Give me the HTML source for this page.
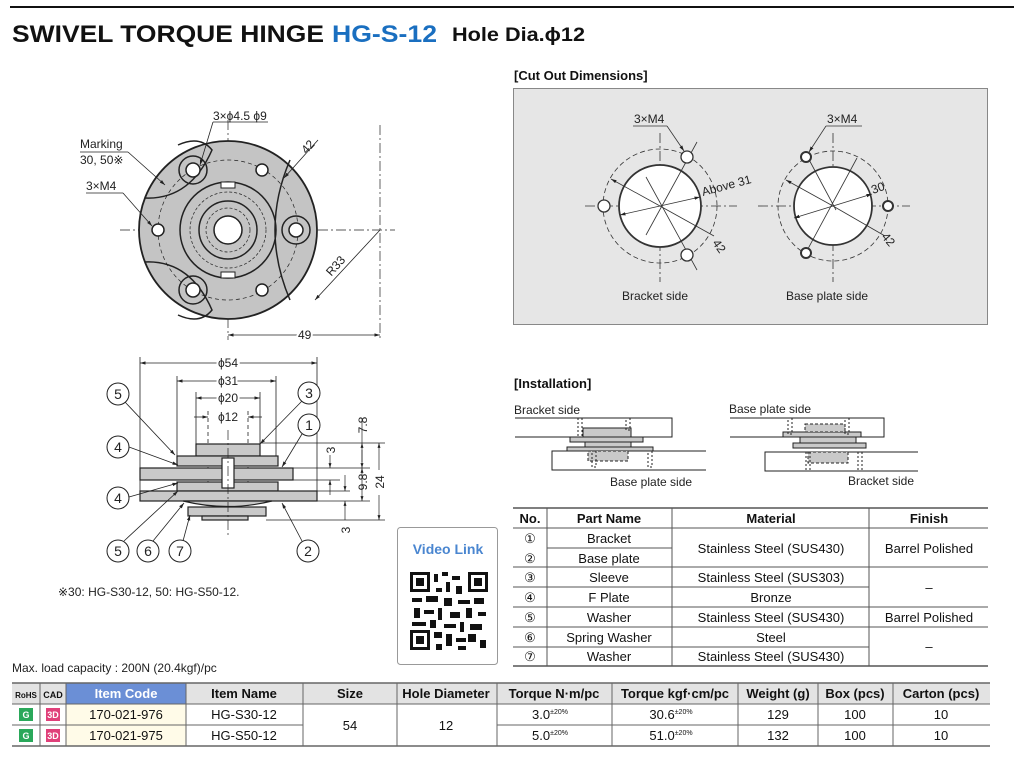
<!DOCTYPE html>
<html><head><meta charset="utf-8"><style>
body{margin:0;background:#fff;width:1014px;height:777px;overflow:hidden}
svg{display:block;font-family:"Liberation Sans",sans-serif}
</style></head><body>
<svg width="1014" height="777" viewBox="0 0 1014 777" xmlns="http://www.w3.org/2000/svg">
<defs>
<marker id="a" viewBox="0 0 10 10" refX="10" refY="5" markerWidth="7" markerHeight="7" orient="auto-start-reverse"><path d="M0,2 L10,5 L0,8z" fill="#222"/></marker>
</defs>
<line x1="10" y1="7" x2="1014" y2="7" stroke="#111" stroke-width="2"/>
<text x="12" y="42" font-size="24" font-weight="bold" fill="#111" textLength="312" lengthAdjust="spacingAndGlyphs">SWIVEL TORQUE HINGE</text>
<text x="332" y="42" font-size="24" font-weight="bold" fill="#1a6fc0" textLength="105" lengthAdjust="spacingAndGlyphs">HG-S-12</text>
<text x="452" y="41" font-size="19" font-weight="bold" fill="#111" textLength="133" lengthAdjust="spacingAndGlyphs">Hole Dia.ϕ12</text>

<!-- TOP VIEW -->
<g stroke="#222" fill="none">
<line x1="120" y1="230" x2="395" y2="230" stroke-dasharray="10,3,2,3" stroke-width="0.7"/>
<line x1="228" y1="120" x2="228" y2="340" stroke-dasharray="10,3,2,3" stroke-width="0.7"/>
<line x1="380" y1="125" x2="380" y2="340" stroke-dasharray="10,3,2,3" stroke-width="0.7"/>
<circle cx="228" cy="230" r="89" fill="#c4c4c4" stroke-width="1.8"/>
<path d="M145,198 Q190,200 212,150 Q200,135 178,145" stroke-width="1.5"/>
<path d="M145,262 Q190,260 212,310 Q200,325 178,315" stroke-width="1.5"/>
<path d="M290,160 Q260,230 290,300" stroke-width="1.5"/>
<circle cx="228" cy="230" r="70" stroke-dasharray="4,3" stroke-width="0.7"/>
<circle cx="228" cy="230" r="48" stroke-width="1.5"/>
<circle cx="228" cy="230" r="38" stroke-dasharray="3,2" stroke-width="0.7"/>
<circle cx="228" cy="230" r="29" stroke-width="1.5"/>
<circle cx="228" cy="230" r="22" stroke-dasharray="3,2" stroke-width="0.7"/>
<circle cx="228" cy="230" r="14" fill="#fff" stroke-width="1.5"/>
<rect x="221" y="182" width="14" height="6" fill="#fff" stroke-width="1"/>
<rect x="221" y="272" width="14" height="6" fill="#fff" stroke-width="1"/>
<circle cx="193" cy="170" r="14" stroke-width="1.5"/><circle cx="193" cy="170" r="7" fill="#fff" stroke-width="1.5"/>
<circle cx="193" cy="290" r="14" stroke-width="1.5"/><circle cx="193" cy="290" r="7" fill="#fff" stroke-width="1.5"/>
<circle cx="296" cy="230" r="14" stroke-width="1.5"/><circle cx="296" cy="230" r="7" fill="#fff" stroke-width="1.5"/>
<circle cx="158" cy="230" r="6" fill="#fff" stroke-width="1.5"/>
<circle cx="262" cy="170" r="6" fill="#fff" stroke-width="1.5"/>
<circle cx="262" cy="290" r="6" fill="#fff" stroke-width="1.5"/>
<line x1="213" y1="122" x2="268" y2="122" stroke-width="0.8"/><line x1="213" y1="122" x2="200" y2="165" stroke-width="0.8" marker-end="url(#a)"/>
<line x1="80" y1="152" x2="128" y2="152" stroke-width="0.8"/><line x1="128" y1="152" x2="165" y2="185" stroke-width="0.8" marker-end="url(#a)"/>
<line x1="86" y1="193" x2="123" y2="193" stroke-width="0.8"/><line x1="123" y1="193" x2="152" y2="226" stroke-width="0.8" marker-end="url(#a)"/>
<line x1="318" y1="140" x2="284" y2="178" stroke-width="0.8" marker-end="url(#a)"/>
<line x1="380" y1="230" x2="315" y2="300" stroke-width="0.8" marker-end="url(#a)"/>
<line x1="228" y1="335" x2="380" y2="335" stroke-width="0.8" marker-start="url(#a)" marker-end="url(#a)"/>
</g>
<g font-size="12" fill="#222">
<text x="213" y="120">3×ϕ4.5 ϕ9</text>
<text x="80" y="148">Marking</text>
<text x="80" y="164">30, 50※</text>
<text x="86" y="190">3×M4</text>
<text x="300" y="152" transform="rotate(-48 306 146)">42</text>
<text x="322" y="272" transform="rotate(-48 332 264)">R33</text>
<text x="298" y="339" fill="#222" style="paint-order:stroke" stroke="#fff" stroke-width="4">49</text>
</g>

<!-- SIDE VIEW -->
<g stroke="#222" stroke-width="0.8" fill="none">
<line x1="140" y1="357" x2="140" y2="491"/><line x1="317" y1="357" x2="317" y2="491"/>
<line x1="177" y1="376" x2="177" y2="456"/><line x1="276" y1="376" x2="276" y2="456"/>
<line x1="196" y1="392" x2="196" y2="444"/><line x1="260" y1="392" x2="260" y2="444"/>
<line x1="208" y1="411" x2="208" y2="520" stroke-dasharray="4,3"/><line x1="248" y1="411" x2="248" y2="520" stroke-dasharray="4,3"/>
<line x1="140" y1="363" x2="317" y2="363" marker-start="url(#a)" marker-end="url(#a)"/>
<line x1="177" y1="381" x2="276" y2="381" marker-start="url(#a)" marker-end="url(#a)"/>
<line x1="196" y1="398" x2="260" y2="398" marker-start="url(#a)" marker-end="url(#a)"/>
<line x1="194" y1="417" x2="208" y2="417" marker-end="url(#a)"/><line x1="262" y1="417" x2="248" y2="417" marker-end="url(#a)"/>
</g>
<g font-size="12" fill="#222" text-anchor="middle" stroke="#fff" stroke-width="4" style="paint-order:stroke">
<text x="228" y="367">ϕ54</text><text x="228" y="385">ϕ31</text><text x="228" y="402">ϕ20</text><text x="228" y="421">ϕ12</text>
</g>
<g stroke="#222" stroke-width="1.2" fill="#c9c9c9">
<rect x="196" y="444" width="64" height="12"/>
<rect x="177" y="456" width="101" height="10"/>
<rect x="140" y="468" width="153" height="12"/>
<rect x="177" y="482" width="101" height="9"/>
<rect x="140" y="491" width="177" height="10"/>
<path d="M183,501 Q228,512 272,501z"/>
<rect x="188" y="507" width="78" height="9"/>
<rect x="202" y="516" width="46" height="4"/>
<rect x="222" y="458" width="12" height="30" fill="#fff"/>
</g>
<line x1="228" y1="430" x2="228" y2="535" stroke="#222" stroke-width="0.7" stroke-dasharray="10,3,2,3"/>
<g stroke="#222" stroke-width="0.7" fill="none">
<line x1="260" y1="443" x2="385" y2="443"/><line x1="293" y1="468" x2="370" y2="468"/><line x1="293" y1="480" x2="340" y2="480"/>
<line x1="317" y1="491" x2="350" y2="491"/><line x1="317" y1="501" x2="370" y2="501"/><line x1="266" y1="520" x2="385" y2="520"/>
<line x1="362" y1="418" x2="362" y2="443"/><line x1="362" y1="450" x2="362" y2="468" marker-end="url(#a)"/><line x1="362" y1="462" x2="362" y2="443" marker-end="url(#a)"/>
<line x1="362" y1="488" x2="362" y2="468" marker-end="url(#a)"/><line x1="362" y1="488" x2="362" y2="501" marker-end="url(#a)"/>
<line x1="379" y1="470" x2="379" y2="443" marker-end="url(#a)"/><line x1="379" y1="495" x2="379" y2="520" marker-end="url(#a)"/>
<line x1="330" y1="455" x2="330" y2="468" marker-end="url(#a)"/><line x1="330" y1="495" x2="330" y2="480" marker-end="url(#a)"/>
<line x1="345" y1="475" x2="345" y2="491" marker-end="url(#a)"/><line x1="345" y1="520" x2="345" y2="501" marker-end="url(#a)"/>
</g>
<g font-size="12" fill="#222" text-anchor="middle">
<text transform="translate(367,425) rotate(-90)">7.8</text>
<text transform="translate(335,450) rotate(-90)">3</text>
<text transform="translate(367,482) rotate(-90)">9.8</text>
<text transform="translate(384,482) rotate(-90)">24</text>
<text transform="translate(350,530) rotate(-90)">3</text>
</g>
<g stroke="#222" stroke-width="0.8" fill="none">
<line x1="125" y1="402" x2="175" y2="455" marker-end="url(#a)"/>
<line x1="302" y1="401" x2="260" y2="444" marker-end="url(#a)"/>
<line x1="302" y1="434" x2="282" y2="467" marker-end="url(#a)"/>
<line x1="129" y1="447" x2="178" y2="465" marker-end="url(#a)"/>
<line x1="129" y1="497" x2="178" y2="483" marker-end="url(#a)"/>
<line x1="124" y1="541" x2="178" y2="491" marker-end="url(#a)"/>
<line x1="153" y1="541" x2="184" y2="503" marker-end="url(#a)"/>
<line x1="183" y1="541" x2="190" y2="515" marker-end="url(#a)"/>
<line x1="302" y1="541" x2="282" y2="503" marker-end="url(#a)"/>
</g>
<g stroke="#222" stroke-width="1" fill="#fff">
<circle cx="118" cy="394" r="11"/><circle cx="309" cy="393" r="11"/><circle cx="309" cy="425" r="11"/>
<circle cx="118" cy="447" r="11"/><circle cx="118" cy="498" r="11"/>
<circle cx="118" cy="551" r="11"/><circle cx="148" cy="551" r="11"/><circle cx="180" cy="551" r="11"/><circle cx="308" cy="551" r="11"/>
</g>
<g font-size="14" fill="#222" text-anchor="middle">
<text x="118" y="399">5</text><text x="309" y="398">3</text><text x="309" y="430">1</text>
<text x="118" y="452">4</text><text x="118" y="503">4</text>
<text x="118" y="556">5</text><text x="148" y="556">6</text><text x="180" y="556">7</text><text x="308" y="556">2</text>
</g>
<text x="58" y="596" font-size="12" fill="#222">※30: HG-S30-12, 50: HG-S50-12.</text>

<!-- VIDEO LINK -->
<rect x="397.5" y="527.5" width="100" height="137" rx="3" fill="#fff" stroke="#999"/>
<text x="448" y="554" font-size="14" font-weight="bold" fill="#4a86d0" text-anchor="middle">Video Link</text>
<g fill="#111">
<rect x="410" y="572" width="78" height="78" fill="#fff"/>
<rect x="410" y="572" width="20" height="20"/><rect x="413" y="575" width="14" height="14" fill="#fff"/><rect x="416" y="578" width="8" height="8"/>
<rect x="468" y="572" width="20" height="20"/><rect x="471" y="575" width="14" height="14" fill="#fff"/><rect x="474" y="578" width="8" height="8"/>
<rect x="410" y="630" width="20" height="20"/><rect x="413" y="633" width="14" height="14" fill="#fff"/><rect x="416" y="636" width="8" height="8"/>
<rect x="434" y="574" width="4" height="8"/><rect x="442" y="572" width="6" height="4"/><rect x="452" y="576" width="8" height="4"/><rect x="446" y="582" width="4" height="10"/>
<rect x="436" y="588" width="6" height="4"/><rect x="456" y="586" width="6" height="8"/><rect x="412" y="598" width="10" height="4"/><rect x="426" y="596" width="12" height="6"/>
<rect x="444" y="598" width="8" height="8"/><rect x="458" y="600" width="12" height="4"/><rect x="474" y="598" width="10" height="6"/><rect x="414" y="608" width="6" height="10"/>
<rect x="424" y="610" width="10" height="4"/><rect x="438" y="608" width="4" height="12"/><rect x="450" y="612" width="10" height="6"/><rect x="466" y="608" width="6" height="10"/>
<rect x="478" y="612" width="8" height="4"/><rect x="412" y="622" width="14" height="4"/><rect x="430" y="620" width="6" height="8"/><rect x="444" y="624" width="12" height="4"/>
<rect x="460" y="622" width="4" height="10"/><rect x="470" y="624" width="12" height="6"/><rect x="434" y="632" width="8" height="6"/><rect x="446" y="634" width="6" height="12"/>
<rect x="456" y="638" width="10" height="4"/><rect x="468" y="634" width="8" height="8"/><rect x="480" y="640" width="6" height="8"/><rect x="436" y="644" width="6" height="6"/><rect x="458" y="646" width="8" height="4"/>
</g>

<!-- CUT OUT -->
<text x="514" y="80" font-size="13" font-weight="bold" fill="#111">[Cut Out Dimensions]</text>
<rect x="513.5" y="88.5" width="474" height="236" fill="#e6e6e6" stroke="#888"/>
<g stroke="#333" fill="none" stroke-width="0.8">
<line x1="585" y1="206" x2="737" y2="206" stroke-dasharray="10,3,2,3"/><line x1="660" y1="133" x2="660" y2="282" stroke-dasharray="10,3,2,3"/>
<circle cx="660" cy="206" r="57" stroke-dasharray="5,3"/>
<circle cx="660" cy="206" r="41" fill="#fff" stroke-width="1.8"/>
<line x1="660" y1="206" x2="700" y2="197" marker-end="url(#a)"/><line x1="660" y1="206" x2="620" y2="215" marker-end="url(#a)"/>
<line x1="660" y1="206" x2="611" y2="179" marker-end="url(#a)"/><line x1="660" y1="206" x2="714" y2="236"/>
<line x1="646" y1="235" x2="697" y2="142"/><line x1="646" y1="177" x2="697" y2="270"/>
<circle cx="687" cy="157" r="6" fill="#fff" stroke-width="1.3"/><circle cx="687" cy="255" r="6" fill="#fff" stroke-width="1.3"/><circle cx="604" cy="206" r="6" fill="#fff" stroke-width="1.3"/>
<line x1="633" y1="126" x2="667" y2="126"/><line x1="667" y1="126" x2="684" y2="151" marker-end="url(#a)"/>
<line x1="758" y1="206" x2="910" y2="206" stroke-dasharray="10,3,2,3"/><line x1="833" y1="133" x2="833" y2="282" stroke-dasharray="10,3,2,3"/>
<circle cx="833" cy="206" r="55" stroke-dasharray="5,3"/>
<circle cx="833" cy="206" r="39" fill="#fff" stroke-width="1.8"/>
<line x1="833" y1="206" x2="872" y2="194" marker-end="url(#a)"/><line x1="833" y1="206" x2="794" y2="218" marker-end="url(#a)"/>
<line x1="833" y1="206" x2="786" y2="180" marker-end="url(#a)"/><line x1="833" y1="206" x2="885" y2="236"/>
<line x1="803" y1="258" x2="857" y2="158"/><line x1="806" y1="154" x2="836" y2="210"/>
<circle cx="806" cy="157" r="5" fill="#fff" stroke-width="2"/><circle cx="806" cy="253" r="5" fill="#fff" stroke-width="2"/><circle cx="888" cy="206" r="5" fill="#fff" stroke-width="2"/>
<line x1="826" y1="126" x2="862" y2="126"/><line x1="826" y1="126" x2="809" y2="152" marker-end="url(#a)"/>
</g>
<g font-size="12" fill="#222">
<text x="634" y="123">3×M4</text><text x="827" y="123">3×M4</text>
<text x="703" y="196" transform="rotate(-15 703 196)">Above 31</text>
<text x="712" y="243" transform="rotate(55 712 243)">42</text>
<text x="873" y="194" transform="rotate(-20 873 194)">30</text>
<text x="881" y="237" transform="rotate(50 881 237)">42</text>
<text x="622" y="300">Bracket side</text><text x="786" y="300">Base plate side</text>
</g>

<!-- INSTALLATION -->
<text x="514" y="388" font-size="13" font-weight="bold" fill="#111">[Installation]</text>
<g font-size="12" fill="#222">
<text x="514" y="414">Bracket side</text><text x="610" y="486">Base plate side</text>
<text x="729" y="413">Base plate side</text><text x="848" y="485">Bracket side</text>
</g>
<g stroke="#222" stroke-width="1" fill="none">
<path d="M515,418 H672 V437 H515"/><path d="M706,451 H552 V470 H706"/>
<rect x="570" y="437" width="73" height="5" fill="#c9c9c9"/><rect x="583" y="428" width="48" height="9" fill="#c9c9c9"/>
<rect x="567" y="447" width="86" height="4" fill="#c9c9c9"/><rect x="585" y="442" width="46" height="5" fill="#c9c9c9"/>
<rect x="588" y="451" width="40" height="10" fill="#c9c9c9" stroke-dasharray="3,2"/>
<rect x="578" y="418" width="4" height="19" stroke-dasharray="2,2"/><rect x="626" y="418" width="4" height="12" stroke-dasharray="2,2"/>
<rect x="592" y="451" width="4" height="16" stroke-dasharray="2,2"/><rect x="648" y="451" width="4" height="16" stroke-dasharray="2,2"/>
<path d="M730,418 H884 V437 H730"/><path d="M918,452 H765 V471 H918"/>
<rect x="783" y="432" width="78" height="5" fill="#c9c9c9"/><rect x="805" y="424" width="40" height="8" fill="#c9c9c9" stroke-dasharray="3,2"/>
<rect x="793" y="443" width="73" height="5" fill="#c9c9c9"/><rect x="800" y="437" width="56" height="6" fill="#c9c9c9"/>
<rect x="808" y="452" width="40" height="11" fill="#c9c9c9" stroke-dasharray="3,2"/>
<rect x="788" y="418" width="4" height="16" stroke-dasharray="2,2"/><rect x="845" y="418" width="4" height="16" stroke-dasharray="2,2"/>
<rect x="806" y="452" width="4" height="19" stroke-dasharray="2,2"/><rect x="858" y="452" width="4" height="19" stroke-dasharray="2,2"/>
</g>

<!-- PARTS TABLE -->
<g stroke="#555" stroke-width="1">
<line x1="513" y1="508" x2="988" y2="508" stroke-width="1.5"/>
<line x1="513" y1="528" x2="988" y2="528"/>
<line x1="547" y1="548" x2="672" y2="548"/>
<line x1="513" y1="567" x2="988" y2="567"/>
<line x1="513" y1="587" x2="869" y2="587"/>
<line x1="513" y1="607" x2="988" y2="607"/>
<line x1="513" y1="627" x2="988" y2="627"/>
<line x1="513" y1="647" x2="869" y2="647"/>
<line x1="513" y1="666" x2="988" y2="666" stroke-width="1.5"/>
<line x1="547" y1="508" x2="547" y2="666"/><line x1="672" y1="508" x2="672" y2="666"/><line x1="869" y1="508" x2="869" y2="666"/>
</g>
<g font-size="13" fill="#111" text-anchor="middle">
<g font-weight="bold"><text x="530" y="523">No.</text><text x="609" y="523">Part Name</text><text x="771" y="523">Material</text><text x="929" y="523">Finish</text></g>
<text x="530" y="543">①</text><text x="530" y="563">②</text><text x="530" y="582">③</text><text x="530" y="602">④</text><text x="530" y="622">⑤</text><text x="530" y="642">⑥</text><text x="530" y="661">⑦</text>
<text x="609" y="543">Bracket</text><text x="609" y="563">Base plate</text><text x="609" y="582">Sleeve</text><text x="609" y="602">F Plate</text><text x="609" y="622">Washer</text><text x="609" y="642">Spring Washer</text><text x="609" y="661">Washer</text>
<text x="771" y="553">Stainless Steel (SUS430)</text><text x="771" y="582">Stainless Steel (SUS303)</text><text x="771" y="602">Bronze</text><text x="771" y="622">Stainless Steel (SUS430)</text><text x="771" y="642">Steel</text><text x="771" y="661">Stainless Steel (SUS430)</text>
<text x="929" y="553">Barrel Polished</text><text x="929" y="592">–</text><text x="929" y="622">Barrel Polished</text><text x="929" y="651">–</text>
</g>

<!-- BOTTOM TABLE -->
<text x="12" y="672" font-size="12" fill="#222">Max. load capacity : 200N (20.4kgf)/pc</text>
<rect x="12" y="683" width="978" height="21" fill="#e3e3e3"/>
<rect x="66" y="683" width="120" height="21" fill="#6b8fd6"/>
<rect x="66" y="704" width="120" height="42" fill="#fffbe8"/>
<g stroke="#666" stroke-width="1">
<line x1="12" y1="683" x2="990" y2="683" stroke-width="1.5"/><line x1="12" y1="704" x2="990" y2="704"/>
<line x1="12" y1="725" x2="303" y2="725"/><line x1="497" y1="725" x2="990" y2="725"/>
<line x1="12" y1="746" x2="990" y2="746" stroke-width="1.5"/>
<line x1="40" y1="683" x2="40" y2="746"/><line x1="66" y1="683" x2="66" y2="746"/><line x1="186" y1="683" x2="186" y2="746"/>
<line x1="303" y1="683" x2="303" y2="746"/><line x1="397" y1="683" x2="397" y2="746"/><line x1="497" y1="683" x2="497" y2="746"/>
<line x1="612" y1="683" x2="612" y2="746"/><line x1="738" y1="683" x2="738" y2="746"/><line x1="818" y1="683" x2="818" y2="746"/><line x1="893" y1="683" x2="893" y2="746"/>
</g>
<g font-size="13" fill="#111" text-anchor="middle">
<g font-weight="bold"><text x="26" y="698" font-size="8">RoHS</text><text x="53" y="698" font-size="9">CAD</text>
<text x="126" y="698" fill="#fff">Item Code</text><text x="244" y="698">Item Name</text><text x="350" y="698">Size</text><text x="446" y="698">Hole Diameter</text>
<text x="554" y="698">Torque N·m/pc</text><text x="675" y="698">Torque kgf·cm/pc</text><text x="778" y="698">Weight (g)</text><text x="855" y="698">Box (pcs)</text><text x="941" y="698">Carton (pcs)</text></g>
<text x="126" y="719">170-021-976</text><text x="126" y="740">170-021-975</text>
<text x="244" y="719">HG-S30-12</text><text x="244" y="740">HG-S50-12</text>
<text x="350" y="730">54</text><text x="446" y="730">12</text>
<text x="550" y="719">3.0<tspan font-size="7" dy="-5">±20%</tspan></text><text x="550" y="740">5.0<tspan font-size="7" dy="-5">±20%</tspan></text>
<text x="671" y="719">30.6<tspan font-size="7" dy="-5">±20%</tspan></text><text x="671" y="740">51.0<tspan font-size="7" dy="-5">±20%</tspan></text>
<text x="778" y="719">129</text><text x="778" y="740">132</text>
<text x="855" y="719">100</text><text x="855" y="740">100</text>
<text x="941" y="719">10</text><text x="941" y="740">10</text>
</g>
<g font-size="9" font-weight="bold" text-anchor="middle" fill="#fff">
<rect x="19" y="708" width="14" height="13" fill="#2aa85a"/><text x="26" y="718">G</text>
<rect x="19" y="729" width="14" height="13" fill="#2aa85a"/><text x="26" y="739">G</text>
<rect x="46" y="708" width="14" height="13" fill="#e0407a"/><text x="53" y="718">3D</text>
<rect x="46" y="729" width="14" height="13" fill="#e0407a"/><text x="53" y="739">3D</text>
</g>
</svg>
</body></html>
